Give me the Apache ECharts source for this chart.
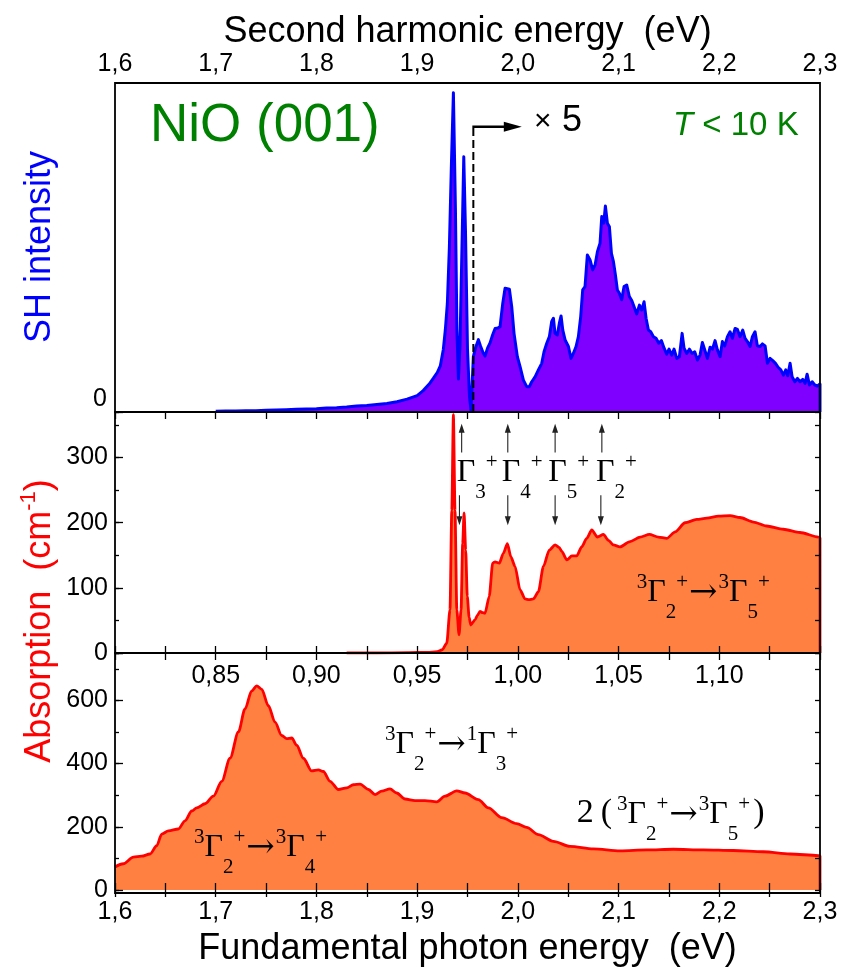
<!DOCTYPE html>
<html><head><meta charset="utf-8">
<script src="https://cdn.jsdelivr.net/npm/echarts@6/dist/echarts.min.js"></script>
<style>html,body{margin:0;padding:0;background:#fff}#c{width:843px;height:968px}</style>
</head><body><div id="c"></div>
<script>
// ---------- DATA ----------
// Top panel: SH intensity vs second-harmonic energy (eV); region above 1.9558 eV is shown x5
const shEnergy = [1.700,1.710,1.720,1.730,1.740,1.750,1.760,1.770,1.780,1.790,1.800,1.810,1.820,1.830,1.840,1.850,1.860,1.870,1.880,1.890,1.900,1.906,1.912,1.916,1.920,1.923,1.926,1.928,1.930,1.932,1.934,1.936,1.938,1.9395,1.941,1.9425,1.9445,1.9463,1.948,1.950,1.952,1.9535,1.9552,1.9558,1.958,1.9608,1.963,1.9655,1.9674,1.970,1.9724,1.975,1.9774,1.980,1.9823,1.9850,1.9873,1.9916,1.9939,1.9962,1.9995,2.0022,2.0055,2.0088,2.0114,2.0138,2.0171,2.0204,2.0237,2.0260,2.0287,2.0313,2.0336,2.0353,2.0369,2.0392,2.0412,2.0429,2.0446,2.0469,2.0502,2.0528,2.0551,2.0578,2.0601,2.0624,2.0644,2.0667,2.0690,2.0717,2.0743,2.0767,2.0790,2.0816,2.0833,2.0853,2.0869,2.0889,2.0909,2.0929,2.0949,2.0969,2.0988,2.1008,2.1031,2.1054,2.1081,2.1107,2.1131,2.1154,2.1180,2.1207,2.1230,2.1253,2.1273,2.1296,2.1319,2.1346,2.1372,2.1399,2.1425,2.1452,2.1478,2.1501,2.1528,2.1551,2.1578,2.1604,2.1631,2.1650,2.1677,2.1703,2.1730,2.1756,2.1783,2.1809,2.1832,2.1855,2.1882,2.1909,2.1932,2.1958,2.1981,2.2008,2.2031,2.2054,2.2081,2.2107,2.2130,2.2157,2.2180,2.2206,2.2233,2.2256,2.2279,2.2306,2.2329,2.2355,2.2378,2.2405,2.2428,2.2455,2.2478,2.2504,2.2531,2.2558,2.2584,2.2611,2.2637,2.2660,2.2680,2.2703,2.2723,2.2750,2.2776,2.2802,2.2829,2.2852,2.2872,2.2895,2.2922,2.2948,2.2974,2.3000,2.3000];
const shIntensity = [0.2,0.3,0.3,0.4,0.4,0.5,0.6,0.7,0.8,0.9,1.0,1.2,1.3,1.5,1.8,2.0,2.3,2.6,3.1,3.9,5.0,6.5,8.5,10.2,12.0,14.0,19,25,33,50,75,97,62,25,10,20,50,77.6,55,19,4.5,0.5,0.3,16.8,19.5,22,20,18,17,19.5,21,23.5,25.4,25.5,25.9,33.0,37.6,37.3,32.0,23.9,16.8,13.8,9.7,7.7,7.7,9.2,10.7,12.8,14.8,18.3,20.9,22.9,27.5,28.5,23.9,23.4,27.0,29.2,24.9,21.9,19.9,16.3,17.8,19.9,22.9,29.0,37.1,38.1,47.7,46.2,43.2,44.7,48.7,51.3,59.4,57.4,62.6,57.4,56.3,48.2,45.7,41.6,37.1,36.1,34.1,38.1,38.6,35.1,33.9,32.0,29.8,32.5,31.0,33.5,28.5,24.9,24.4,22.9,22.4,20.9,21.7,19.4,17.6,19.1,17.3,19.1,16.3,16.8,23.9,19.4,17.8,19.1,17.8,18.3,15.8,17.3,21.1,18.9,16.3,19.7,19.1,21.7,18.9,16.8,21.4,20.1,22.9,24.4,22.4,25.4,25.1,22.9,24.9,22.4,21.4,19.9,22.9,24.4,20.1,19.9,20.7,20.1,14.8,16.3,15.6,14.8,13.6,12.8,11.2,12.8,11.0,14.8,10.7,9.2,10.2,9.2,9.9,8.7,11.5,8.2,9.2,8.2,7.9,8.5,0];

// Middle panel: absorption (cm^-1) vs fundamental energy 0.80-1.15 eV
const absLowEnergy = [0.915,0.930,0.945,0.955,0.960,0.9625,0.9647,0.9663,0.9672,0.968,0.9688,0.9697,0.9708,0.9718,0.9726,0.9733,0.9741,0.9749,0.9758,0.9766,0.9787,0.980,0.9812,0.9825,0.9837,0.9858,0.9875,0.9887,0.9908,0.9928,0.9948,0.9965,0.9986,1.0011,1.0036,1.0055,1.0077,1.0102,1.0127,1.0156,1.0185,1.0205,1.0218,1.0243,1.0268,1.0292,1.0317,1.0342,1.0367,1.0395,1.0425,1.045,1.0474,1.0507,1.0557,1.0607,1.0653,1.0698,1.0739,1.0781,1.083,1.0888,1.0938,1.0996,1.1054,1.1103,1.117,1.1235,1.1318,1.1401,1.1492,1.15,1.15];
const absLowValue = [0,0,0.5,1,2,5,15,66,219,366,219,66,28,66,168,215,158,87,55,43,51,58,64,62,61,87,138,140,138,153,168,148,133,97,83,82,83,94,133,158,166,162,156,143,149,149,163,176,189,178,182,173,166,163,171,178,182,178,176,186,200,205,207,210,211,208,201,195,190,185,178,177,0];

// Bottom panel: absorption (cm^-1) vs fundamental energy 1.6-2.3 eV
const absHighEnergy = [1.600,1.6083,1.6182,1.6265,1.6348,1.6414,1.6464,1.653,1.6629,1.6695,1.6762,1.6811,1.6894,1.6977,1.706,1.7142,1.7225,1.7291,1.7357,1.7407,1.7457,1.7523,1.7589,1.7655,1.7705,1.7755,1.7804,1.787,1.7953,1.8019,1.8069,1.8135,1.8218,1.8301,1.8366,1.8433,1.8516,1.8582,1.8648,1.8731,1.8797,1.888,1.8979,1.9078,1.9195,1.9277,1.9393,1.9476,1.9608,1.9707,1.984,1.9989,2.0088,2.0204,2.0353,2.0518,2.075,2.1015,2.128,2.1544,2.1842,2.214,2.2438,2.2703,2.2984,2.300,2.300];
const absHighValue = [73,83,104,107,114,140,177,187,193,219,250,260,273,297,344,417,500,573,630,646,635,583,531,489,479,481,458,417,377,380,375,344,318,323,333,335,318,302,313,320,307,288,283,283,279,297,314,307,286,260,229,210,198,175,154,138,130,124,127,129,127,125,121,114,109,108,0];

// Level-arrow annotation energies (middle panel, eV) and labels
const levelNames = ['3','4','5','2'];
const levelUpX = [0.9721,0.9950,1.0185,1.0417];
const levelDownX = [0.9710,0.9950,1.0185,1.0412];

// ---------- CHART ----------
const SANS = '"Liberation Sans", Arial, sans-serif';
const SERIF = '"Liberation Serif", "Times New Roman", serif';
const ARROWF = '"DejaVu Serif", serif';
const zip = (a, b) => a.map((x, i) => [x, b[i]]);
const chart = echarts.init(document.getElementById('c'), null, {renderer: 'canvas'});

const L = 115, Rt = 23;
const G = [{top: 83, h: 329}, {top: 412, h: 241}, {top: 653, h: 240}];
const axFont = {fontFamily: SANS, fontSize: 25, color: '#000'};
const tick = (len) => ({show: true, inside: true, length: len, lineStyle: {color: '#000', width: 1.3}});
const minor = {show: true, splitNumber: 2, length: 7, lineStyle: {color: '#000', width: 1.3}};
const fmt1 = v => v.toFixed(1).replace('.', ',');
const fmt2 = v => (v < 0.84 || v > 1.14) ? '' : v.toFixed(2).replace('.', ',');
const base = {type: 'value', z: 10, axisLine: {show: false}, splitLine: {show: false}};
const titleFont = {fontFamily: SANS, fontSize: 36, color: '#000'};

const option = {
  animation: false,
  backgroundColor: '#fff',
  grid: G.map(g => ({left: L, right: Rt, top: g.top, height: g.h, show: false})),
  xAxis: [
    Object.assign({}, base, {gridIndex: 0, position: 'top', min: 1.6, max: 2.3, interval: 0.1,
      axisTick: tick(7), minorTick: minor, axisLabel: Object.assign({formatter: fmt1, margin: 6}, axFont),
      name: 'Second harmonic energy  (eV)', nameLocation: 'middle', nameGap: 33, nameTextStyle: titleFont}),
    Object.assign({}, base, {gridIndex: 1, position: 'top', min: 0.8, max: 1.15, interval: 0.05,
      axisTick: tick(7), minorTick: minor, axisLabel: {show: false}}),
    Object.assign({}, base, {gridIndex: 1, position: 'bottom', min: 0.8, max: 1.15, interval: 0.05,
      axisTick: tick(7), minorTick: minor, axisLabel: Object.assign({formatter: fmt2, margin: 11}, axFont)}),
    Object.assign({}, base, {gridIndex: 2, position: 'top', min: 1.6, max: 2.3, interval: 0.1,
      axisTick: tick(7), minorTick: minor, axisLabel: {show: false}}),
    Object.assign({}, base, {gridIndex: 2, position: 'bottom', min: 1.6, max: 2.3, interval: 0.1,
      axisTick: tick(7), minorTick: minor, axisLabel: Object.assign({formatter: fmt1, margin: 10}, axFont),
      name: 'Fundamental photon energy  (eV)', nameLocation: 'middle', nameGap: 41, nameTextStyle: titleFont})
  ],
  yAxis: [
    Object.assign({}, base, {gridIndex: 0, position: 'left', min: 0, max: 100, axisTick: {show: false},
      axisLabel: Object.assign({formatter: v => v === 0 ? '0' : '', margin: 8, verticalAlign: 'bottom'}, axFont)}),
    Object.assign({}, base, {gridIndex: 1, position: 'left', min: 0, max: 370, interval: 100, axisTick: tick(8),
      axisLabel: Object.assign({formatter: v => (v % 100 === 0 && v <= 300) ? String(v) : '', margin: 7}, axFont)}),
    Object.assign({}, base, {gridIndex: 1, position: 'left', min: 0, max: 370, interval: 50, axisTick: tick(4), axisLabel: {show: false}}),
    Object.assign({}, base, {gridIndex: 1, position: 'right', min: 0, max: 370, interval: 50, axisTick: tick(5), axisLabel: {show: false}}),
    Object.assign({}, base, {gridIndex: 2, position: 'left', min: 0, max: 750, interval: 200, axisTick: tick(8),
      axisLabel: Object.assign({formatter: v => (v % 200 === 0 && v <= 600) ? String(v) : '', margin: 7}, axFont)}),
    Object.assign({}, base, {gridIndex: 2, position: 'left', min: 0, max: 750, interval: 100, axisTick: tick(4), axisLabel: {show: false}}),
    Object.assign({}, base, {gridIndex: 2, position: 'right', min: 0, max: 750, interval: 100, axisTick: tick(5), axisLabel: {show: false}})
  ],
  series: [
    {type: 'line', xAxisIndex: 0, yAxisIndex: 0, data: zip(shEnergy, shIntensity), symbol: 'none',
      lineStyle: {color: '#0000FF', width: 3, join: 'round'}, areaStyle: {color: '#8000FF', opacity: 1}, z: 2},
    {type: 'line', xAxisIndex: 2, yAxisIndex: 1, data: zip(absLowEnergy, absLowValue), symbol: 'none',
      smooth: 0.25, smoothMonotone: 'x',
      lineStyle: {color: '#FF0000', width: 2.8}, areaStyle: {color: '#FF8040', opacity: 1}, z: 2},
    {type: 'line', xAxisIndex: 4, yAxisIndex: 4, data: zip(absHighEnergy, absHighValue), symbol: 'none',
      smooth: 0.3, smoothMonotone: 'x',
      lineStyle: {color: '#FF0000', width: 2.8}, areaStyle: {color: '#FF8040', opacity: 1}, z: 2}
  ]
};
chart.setOption(option);

// ---------- ANNOTATIONS ----------
const mctx = document.createElement('canvas').getContext('2d');
function tw(t, size, fam) { mctx.font = size + 'px ' + fam; return mctx.measureText(t).width; }
function txt(t, x, baseline, size, fam, color, extra) {
  return Object.assign({type: 'text', x: x, y: baseline - 0.34 * size, z: 60,
    style: {text: t, fontFamily: fam, fontSize: size, fill: color || '#000', align: 'left', verticalAlign: 'middle'}}, extra || {});
}
// parts: [text, kind]; n=normal, N=bigger, p=superscript, b=subscript, a=arrow glyph, g=gap(px)
function formula(x0, bl, parts, big, small, bigger) {
  const out = []; let x = x0;
  for (const [t, k] of parts) {
    if (k === 'g') { x += t; continue; }
    if (k === 'a') {
      const s = 34;
      out.push(txt(t, x + 1, bl + 2, s, ARROWF));
      x += tw(t, s, ARROWF) + 2;
      continue;
    }
    const size = k === 'n' ? big : (k === 'N' ? bigger : small);
    const y = k === 'p' ? bl - 13 : (k === 'b' ? bl + 17 : bl);
    out.push(txt(t, x, y, size, SERIF));
    x += tw(t, size, SERIF);
  }
  return out;
}
function arrow(p0, p1, headLen, headW, width, color) {
  const dx = p1[0] - p0[0], dy = p1[1] - p0[1], len = Math.hypot(dx, dy), ux = dx / len, uy = dy / len;
  const bx = p1[0] - ux * headLen, by = p1[1] - uy * headLen;
  return [
    {type: 'line', z: 55, shape: {x1: p0[0], y1: p0[1], x2: bx + ux, y2: by + uy}, style: {stroke: color, lineWidth: width}},
    {type: 'polygon', z: 55, shape: {points: [[p1[0], p1[1]], [bx - uy * headW / 2, by + ux * headW / 2], [bx + uy * headW / 2, by - ux * headW / 2]]}, style: {fill: color}}
  ];
}
const px = (xi, yi, v) => chart.convertToPixel({xAxisIndex: xi, yAxisIndex: yi}, v);
const els = [];

// frames
G.forEach(g => els.push({type: 'rect', z: 70, shape: {x: L, y: g.top, width: 843 - L - Rt, height: g.h},
  style: {fill: 'none', stroke: '#000', lineWidth: 1.8}}));

// y-axis titles
els.push({type: 'text', x: 40, y: 247, rotation: Math.PI / 2, z: 60,
  style: {text: 'SH intensity', fontFamily: SANS, fontSize: 36, fill: '#0000FF', align: 'center', verticalAlign: 'middle'}});
els.push({type: 'text', x: 40, y: 621, rotation: Math.PI / 2, z: 60,
  style: {text: '{a|Absorption  (cm}{s|-1}{a|)}', align: 'center', verticalAlign: 'middle',
    rich: {a: {fontFamily: SANS, fontSize: 36, fill: '#FF0000', lineHeight: 44},
           s: {fontFamily: SANS, fontSize: 22, fill: '#FF0000', verticalAlign: 'top', lineHeight: 22}}}});

// NiO (001), T < 10 K, x5
els.push(txt('NiO (001)', 150, 144, 53, SANS, '#008000'));
els.push({type: 'text', x: 673, y: 137 - 0.34 * 33, z: 60,
  style: {text: '{i|T}{n| < 10 K}', align: 'left', verticalAlign: 'middle',
    rich: {i: {fontFamily: SANS, fontSize: 33, fontStyle: 'italic', fill: '#008000'},
           n: {fontFamily: SANS, fontSize: 33, fill: '#008000'}}}});
els.push(txt('\u00d7', 534, 132, 30, SANS, '#000'));
els.push(txt('5', 562, 133, 36, SANS, '#000'));

// dashed marker of the x5 region with arrow
const dashBot = px(0, 0, [1.9558, 0]);
const dashTop = px(0, 0, [1.9558, 86.7]);
els.push({type: 'line', z: 55, shape: {x1: dashBot[0], y1: dashBot[1], x2: dashTop[0], y2: dashTop[1]},
  style: {stroke: '#000', lineWidth: 2, lineDash: [8, 4]}});
const arrEnd = px(0, 0, [2.0039, 86.7]);
els.push(...arrow([dashTop[0] - 1, dashTop[1]], arrEnd, 18, 10, 2.6, '#000'));

// level arrows in middle panel
levelUpX.forEach((e, i) => {
  els.push(...arrow(px(2, 1, [e, 308]), px(2, 1, [e, 352]), 9, 6, 1.1, '#222'));
  els.push(...arrow(px(2, 1, [levelDownX[i], 242]), px(2, 1, [levelDownX[i], 196]), 9, 6, 1.1, '#222'));
});
const gx = [456.7, 501.7, 548.3, 596];
levelNames.forEach((n, i) => els.push(...formula(gx[i], 483, [['\u0393', 'n'], [n, 'b'], ['+', 'p']], 32, 21, 33)));

// transition labels
els.push(...formula(636.7, 603, [['3','p'],['\u0393','n'],['2','b'],['+','p'],['\u2192','a'],['3','p'],['\u0393','n'],['5','b'],['+','p']], 32, 21, 33));
els.push(...formula(385, 755, [['3','p'],['\u0393','n'],['2','b'],['+','p'],['\u2192','a'],['1','p'],['\u0393','n'],['3','b'],['+','p']], 32, 21, 33));
els.push(...formula(194, 858, [['3','p'],['\u0393','n'],['2','b'],['+','p'],['\u2192','a'],['3','p'],['\u0393','n'],['4','b'],['+','p']], 32, 21, 33));
els.push(...formula(576.7, 825, [['2','N'],[7,'g'],['(','N'],[5,'g'],['3','p'],['\u0393','n'],['2','b'],['+','p'],['\u2192','a'],['3','p'],['\u0393','n'],['5','b'],['+','p'],[3,'g'],[')','N']], 32, 21, 34));

chart.setOption({graphic: {elements: els}});
</script></body></html>
